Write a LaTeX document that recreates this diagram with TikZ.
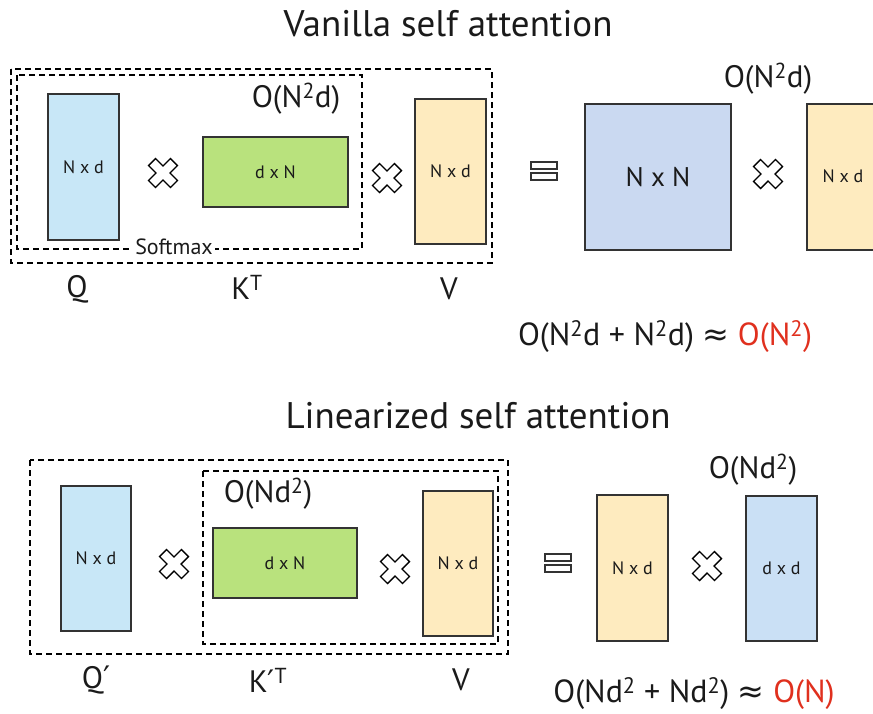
\documentclass[tikz,border=0pt]{standalone}
\usepackage{fontspec}
\setmainfont{PT Sans}
\newfontfamily\symfont{DejaVu Sans}
\definecolor{qblue}{HTML}{C8E7F7}
\definecolor{kgreen}{HTML}{B9E27D}
\definecolor{vyellow}{HTML}{FEEBBF}
\definecolor{nnblue}{HTML}{CAD9F1}
\definecolor{ddblue}{HTML}{CAE0F5}
\definecolor{bigred}{HTML}{E0301E}
\definecolor{edge}{HTML}{333333}
\definecolor{txt}{HTML}{1A1A1A}
\tikzset{
  mat/.style={draw=edge, line width=1.3pt, inner sep=0pt, text=txt, font=\fontsize{18}{21}\selectfont},
  dbox/.style={draw=black, line width=1.1pt, dash pattern=on 6pt off 4pt},
  big/.style={inner sep=0pt, text=txt, font=\fontsize{31}{37}\selectfont},
  formula/.style={inner sep=0pt, text=txt, font=\fontsize{32}{38}\selectfont},
  ttl/.style={inner sep=0pt, text=txt, font=\fontsize{37}{44}\selectfont},
  mult/.pic={
    \draw[line width=1.3pt, line join=miter, rotate=45]
      (5,15.5) -- (5,5) -- (15.5,5) -- (15.5,-5) -- (5,-5) -- (5,-15.5)
      -- (-5,-15.5) -- (-5,-5) -- (-15.5,-5) -- (-15.5,5) -- (-5,5) -- (-5,15.5) -- cycle;
  },
  equiv/.pic={
    \draw[line width=1.8pt, draw=edge] (-13,-9) rectangle (13,-2);
    \draw[line width=1.8pt, draw=edge] (-13,2) rectangle (13,9);
  }
}
\newcommand{\sq}{\textsuperscript{2}}
\newcommand{\prm}{{\symfont ′}}
\begin{document}
\begin{tikzpicture}[x=1pt, y=-1pt]
\useasboundingbox (0,0) rectangle (873,713);

% ---------------- Vanilla ----------------
\node[ttl] (t1) at (448,24) {Vanilla self attention};

\draw[dbox] (11,69) rectangle (492,263);
\draw[dbox] (17,75) rectangle (362,249);
\node[inner sep=2pt, fill=white, text=txt, font=\fontsize{22}{26}\selectfont] (soft) at (174,247) {Softmax};

\node[mat, fill=qblue, minimum width=71pt, minimum height=146pt] (Q) at (83.5,167) {N x d};
\pic at (163,173) {mult};
\node[mat, fill=kgreen, minimum width=145pt, minimum height=70pt] (KT) at (275.5,172) {d x N};
\node[big] (c1) at (296,99) {O(N\sq d)};
\pic at (387,178) {mult};
\node[mat, fill=vyellow, minimum width=71pt, minimum height=145pt] (V) at (450.5,171.5) {N x d};

\node[big] (lQ) at (77,289) {Q};
\node[big] (lK) at (247,287) {K\textsuperscript{T}};
\node[big] (lV) at (449,289) {V};

\pic at (544,171) {equiv};
\node[mat, fill=nnblue, minimum width=146pt, minimum height=146pt, font=\fontsize{27}{32}\selectfont] (NN) at (658,177) {N x N};
\pic at (768,174) {mult};
\node[mat, fill=vyellow, minimum width=72pt, minimum height=146pt] (V2) at (843,177) {};
\node[text=txt, font=\fontsize{18}{21}\selectfont] (V2t) at (843,176) {N x d};
\node[big] (c2) at (768,79) {O(N\sq d)};

\node[formula] (f1) at (665,337) {O(N\sq d + N\sq d) {\symfont ≈} \textcolor{bigred}{O(N\sq)}};

% ---------------- Linearized ----------------
\node[ttl] (t2) at (478,416) {Linearized self attention};

\draw[dbox] (30,460) rectangle (508,654);
\draw[dbox] (203,471) rectangle (498,644);

\node[mat, fill=qblue, minimum width=70pt, minimum height=145pt] (Q2) at (96,558.5) {N x d};
\pic at (174,564) {mult};
\node[mat, fill=kgreen, minimum width=144pt, minimum height=70pt] (K2) at (285,563) {d x N};
\node[big] (c3) at (268,494) {O(Nd\sq)};
\pic at (395,569) {mult};
\node[mat, fill=vyellow, minimum width=70pt, minimum height=145pt] (V3) at (458,563.5) {N x d};

\node[big] (lQ2) at (96,680) {Q\prm};
\node[big] (lK2) at (268,680) {K\prm\textsuperscript{T}};
\node[big] (lV2) at (461,680) {V};

\pic at (558,563) {equiv};
\node[mat, fill=vyellow, minimum width=71pt, minimum height=146pt] (V4) at (632.5,568) {N x d};
\pic at (707,566) {mult};
\node[mat, fill=ddblue, minimum width=71pt, minimum height=145pt] (DD) at (781.5,568.5) {d x d};
\node[big] (c4) at (753,470) {O(Nd\sq)};

\node[formula] (f2) at (694,694) {O(Nd\sq{} + Nd\sq) {\symfont ≈} \textcolor{bigred}{O(N)}};
\end{tikzpicture}
\end{document}
